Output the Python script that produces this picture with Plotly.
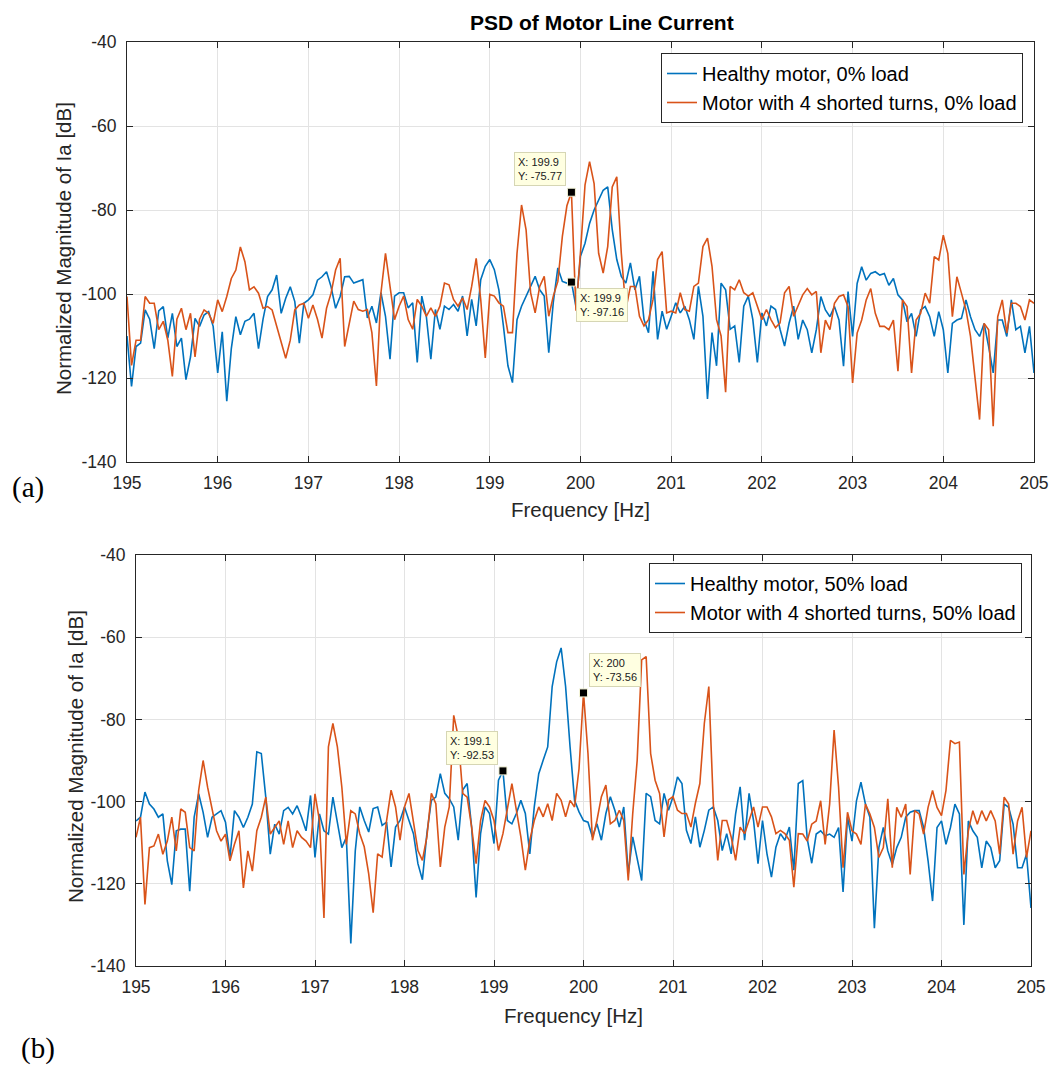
import numpy as np
import plotly.graph_objects as go

# Frequency bins of the PSD estimate [Hz]
freq_hz = np.round(np.arange(195.0, 205.0001, 0.05), 2)

# Normalized magnitude of Ia [dB], 0% load
healthy_0 = [
    -110, -122, -112.5, -111.7, -103.8, -106, -113, -104, -103, -110.5,
    -104.6, -112.5, -110.5, -120.4, -115, -105.8, -107.7, -105, -104.2, -107.7,
    -118.8, -109, -125.5, -113, -105.4, -109.7, -106.5, -106, -104.6, -113,
    -106, -100.6, -99, -95.5, -104.6, -101, -98.3, -101.8, -111.7, -102.2,
    -101.4, -100.2, -96.7, -95.9, -94.7, -98.3, -103.4, -100.6, -95.9, -95.8,
    -97.4, -97, -96.6, -105.7, -102.9, -106.9, -99.7, -105.3, -115.5, -100.5,
    -99.7, -99.7, -103.3, -102.1, -116.3, -100.5, -105.3, -115.5, -103.7, -108.4,
    -102.9, -103.7, -102.5, -104.1, -100.5, -110, -101.3, -107.6, -96.6, -93.4,
    -91.8, -94.2, -99, -107.6, -117.1, -121.1, -106.1, -102.9, -100.5, -98.2,
    -95.8, -99, -100.5, -114, -102, -93.8, -97, -97.4, -97.16, -103,
    -91, -87.9, -83.2, -80, -77.6, -75.3, -74.5, -84.7, -91.8, -95.8,
    -97.4, -92.6, -99, -95.8, -106.1, -109.2, -94.6, -110.8, -104.1, -108.4,
    -105.3, -102.1, -104.5, -102.9, -106.1, -110.8, -98.2, -105.3, -125, -109.2,
    -117.1, -97.4, -99, -108.4, -107.6, -116.3, -102.9, -100.5, -106.1, -116.3,
    -104.5, -107.6, -102.9, -103.7, -108.4, -112.4, -106.9, -102.9, -110.8, -106.2,
    -108.5, -114, -108.5, -100.6, -103.8, -105.4, -103, -106.2, -117.2, -99.4,
    -110.1, -97.5, -93.5, -96.7, -95.1, -94.7, -95.5, -95.1, -97.9, -96.3,
    -100.2, -101.4, -106.6, -104.6, -110.1, -103.8, -103, -105.4, -110.1, -104.2,
    -108.5, -118.8, -107, -106.2, -105.8, -101.4, -105.4, -108.5, -110.1, -107,
    -112.5, -118.8, -106.2, -106.2, -110.1, -101.4, -108.5, -107.7, -114, -107.7,
    -118.8,
]
shorted_0 = [
    -100.6, -117, -111, -111, -100.6, -102.2, -102.2, -108.5, -106.5, -111,
    -119.6, -106, -103.4, -108.5, -104.6, -115, -106, -103.8, -104.6, -107,
    -101.4, -104.2, -100.6, -96.3, -94.3, -88.8, -92.3, -99, -98.3, -99.8,
    -103.4, -103, -103.8, -107.7, -112, -115.3, -111, -103.8, -102.6, -102.2,
    -105.8, -102.6, -106, -110.5, -103.4, -99.8, -94.3, -91.5, -112.5, -106.9,
    -101.7, -103.7, -104.1, -103.7, -109.2, -121.9, -99.7, -90.3, -98.2, -106.1,
    -102.9, -100.5, -106.1, -108.4, -101.3, -102.9, -105.3, -103.3, -105.3, -102.9,
    -97.4, -97.8, -101.3, -102.9, -100.9, -103.7, -98.2, -91.5, -101.3, -115.2,
    -100.1, -100.5, -102.1, -102.9, -109.2, -109.2, -90.3, -78.8, -84.7, -99.7,
    -104.5, -98.2, -95.8, -105.3, -100.5, -97, -86.3, -79, -75.77, -104,
    -90, -74, -68.5, -73.7, -90.3, -95, -88.7, -74.5, -72.1, -90.3,
    -103.7, -98.2, -98.2, -105.3, -107.6, -106.1, -101.3, -91.8, -89.9, -104.5,
    -104.1, -104.5, -99.7, -103.7, -104.1, -98.2, -97.4, -88.7, -86.7, -93.4,
    -106.1, -110, -123.4, -98.2, -99, -96.6, -99.7, -100.5, -99.7, -102.9,
    -106.1, -103.7, -106.1, -108, -106.9, -99.7, -98.2, -105.3, -102.9, -100.2,
    -98.7, -100.2, -99.4, -114, -106.2, -108.5, -102.2, -100.6, -100.2, -103,
    -121.2, -109.3, -106.2, -101.4, -98.7, -104.6, -107.7, -107.7, -108.5, -106.2,
    -118.4, -101.4, -103, -118.8, -106.2, -104.6, -99.8, -102.2, -91.1, -91.9,
    -86, -90.4, -105.4, -95.9, -99.8, -103.8, -110.1, -120.4, -129.9, -107,
    -108.5, -131.5, -105.4, -101.4, -109.3, -102.2, -102.2, -103, -106.2, -101.4,
    -102.2,
]

# Normalized magnitude of Ia [dB], 50% load
healthy_50 = [
    -104.7, -103.8, -97.7, -100.6, -101.8, -103.8, -103, -114.4, -120.2, -107.1,
    -106.7, -106.7, -121.8, -103.8, -98.1, -102.6, -108.7, -103.8, -103, -102.2,
    -105, -113.6, -102.2, -103.8, -106.3, -103.8, -100.6, -87.9, -88.3, -98.9,
    -112.8, -105.5, -107.9, -102.2, -101.4, -103, -101, -103.8, -107.1, -98.5,
    -113.6, -103, -107.1, -107.9, -98.9, -105.5, -111.2, -108.7, -134.5, -112,
    -101.3, -104.6, -107.4, -101.7, -101.3, -105.8, -105, -115.9, -106.2, -104.6,
    -101.3, -104.6, -107.8, -115.1, -119, -107.8, -99.7, -98.9, -93.2, -98,
    -99.3, -101.3, -109.4, -97.2, -95.6, -106.2, -123.3, -107.8, -101.3, -102.9,
    -110.2, -94.8, -92.53, -104.6, -105.4, -102.9, -99.7, -102.9, -112.7, -101.3,
    -93.2, -89.9, -86.7, -72, -66, -62.6, -72, -86.7, -99.7, -102.5,
    -104.6, -105, -108.6, -105.4, -109.4, -102.9, -98.8, -102.1, -106.2, -101.3,
    -117.6, -108.6, -113.5, -119.2, -98, -98.8, -104.6, -105.4, -98, -102.1,
    -98.8, -94, -95.6, -107, -110.2, -103.7, -111.1, -107, -102.1, -101.3,
    -104.6, -111.9, -107.8, -112.7, -102.9, -96.4, -109.4, -98, -104.6, -115.1,
    -104.6, -112.7, -118.4, -111.1, -107.8, -109.4, -106.2, -116.7, -95.6, -94.9,
    -109.1, -115, -107.9, -107.1, -108.3, -107.9, -108.7, -106.3, -122, -103.8,
    -109.6, -99.8, -95.3, -100.6, -103.8, -130.8, -111.2, -106.3, -112, -115.3,
    -111.2, -108.7, -103.8, -102.6, -102.2, -102.2, -106.3, -114.4, -124.2, -106.3,
    -104.7, -110.4, -106.3, -100.6, -103, -130, -104.7, -107.1, -108.7, -116.1,
    -109.6, -111.2, -116.1, -114.4, -100.6, -101.4, -105.5, -116.1, -116.1, -112.8,
    -125.9,
]
shorted_50 = [
    -108.7, -103.8, -125, -111.2, -110.8, -107.9, -112.8, -109.6, -103.8, -112,
    -101.8, -102.6, -111.2, -112, -97.3, -90, -96.5, -102.2, -107.1, -109.6,
    -107.9, -114.4, -110.4, -107.1, -121, -112, -116.9, -107.1, -103.8, -98.9,
    -107.9, -106.3, -104.7, -110.4, -104.7, -111.2, -107.1, -108.7, -109.6, -111.2,
    -98.1, -104.7, -128.3, -86.7, -81, -86.7, -96.5, -110.4, -102.2, -103,
    -107.8, -111, -117.6, -127, -112.7, -113.5, -104.6, -97.2, -101.3, -109.4,
    -101.3, -98, -104.6, -111.9, -114.3, -108.6, -98, -100.5, -115.9, -106.2,
    -101.3, -79, -84.2, -98, -98.9, -106.2, -115.1, -104.6, -99.7, -101.3,
    -104.6, -111.9, -107.8, -101.3, -95.6, -102.1, -108.6, -116.7, -109.4, -104.6,
    -101.3, -103.7, -100.5, -104.6, -98, -99.7, -103.7, -99.7, -101.3, -92,
    -73.56, -88.3, -109.4, -104.6, -98.8, -96, -105.4, -104.6, -102.1, -104.6,
    -119.2, -102.9, -89.9, -65.5, -64.7, -88.3, -94.8, -98, -108.6, -99.6,
    -98.8, -102.1, -102.9, -102.9, -106.2, -100.4, -95.6, -81, -72, -100.4,
    -114.3, -104.6, -104.6, -108.6, -114.3, -106.2, -107.8, -104.6, -101.3, -106.2,
    -101.3, -101.3, -103.7, -107.8, -107, -107.8, -109.4, -120.8, -107.8, -107.9,
    -109.6, -105.5, -104.7, -99.8, -110.4, -100.6, -82.6, -96.5, -116.1, -102.6,
    -107.1, -107.9, -110.4, -100.6, -103, -106.3, -113.6, -111.2, -99.3, -116.1,
    -101.4, -103.8, -100.6, -117.7, -102.2, -103, -107.9, -101.4, -97.3, -101.4,
    -103.4, -97.3, -85.1, -85.9, -85.5, -117.7, -107.1, -102.2, -105.5, -102.2,
    -104.7, -102.2, -104.7, -112.8, -98.9, -100.6, -112.8, -104.7, -101.4, -113.6,
    -107.1,
]

x_ticks = [195, 196, 197, 198, 199, 200, 201, 202, 203, 204, 205]
y_ticks = [-140, -120, -100, -80, -60, -40]
y_tick_text = ["-140", "-120", "-100", "-80", "-60", "-40"]

# Data cursors: (panel, series, frequency, box corner relative to marker)
tips = [
    ("a", shorted_0, 199.9, "ul"),
    ("a", healthy_0, 199.9, "lr"),
    ("b", healthy_50, 199.1, "ul"),
    ("b", shorted_50, 200.0, "ur"),
]

BLUE = "#0072BD"
ORANGE = "#D95319"
AXC = "#262626"
FONT = "Liberation Sans, Arial, sans-serif"
SERIF = "Liberation Serif, DejaVu Serif, serif"

W, H = 1054, 1066


def px_x(p):
    return p / W


def px_y(p):
    return 1 - p / H


fig = go.Figure()

panels = {
    "a": dict(xa="x", ya="y", leg="legend", load="0% load",
              healthy=healthy_0, shorted=shorted_0),
    "b": dict(xa="x2", ya="y2", leg="legend2", load="50% load",
              healthy=healthy_50, shorted=shorted_50),
}

for key, p in panels.items():
    fig.add_trace(go.Scatter(
        x=freq_hz, y=p["healthy"], mode="lines", xaxis=p["xa"], yaxis=p["ya"],
        line=dict(color=BLUE, width=1.6), name="Healthy motor, " + p["load"],
        legend=p["leg"], hoverinfo="skip"))
    fig.add_trace(go.Scatter(
        x=freq_hz, y=p["shorted"], mode="lines", xaxis=p["xa"], yaxis=p["ya"],
        line=dict(color=ORANGE, width=1.6),
        name="Motor with 4 shorted turns, " + p["load"],
        legend=p["leg"], hoverinfo="skip"))

annotations = []
for panel, series, f, corner in tips:
    p = panels[panel]
    idx = int(np.argmin(np.abs(freq_hz - f)))
    xv, yv = float(freq_hz[idx]), float(series[idx])
    fig.add_trace(go.Scatter(
        x=[xv], y=[yv], mode="markers", xaxis=p["xa"], yaxis=p["ya"],
        marker=dict(symbol="square", size=8, color="black",
                    line=dict(color="#f4f4d8", width=1)),
        showlegend=False, hoverinfo="skip"))
    xanchor = "right" if corner[1] == "l" else "left"
    yanchor = "bottom" if corner[0] == "u" else "top"
    annotations.append(dict(
        x=xv, y=yv, xref=p["xa"], yref=p["ya"], showarrow=False,
        text=f"X: {xv:.4g}<br>Y: {yv:.4g}", align="left",
        xanchor=xanchor, yanchor=yanchor,
        xshift=-5 if xanchor == "right" else 5,
        yshift=6 if yanchor == "bottom" else -6,
        font=dict(family=FONT, size=11, color="#1a1a1a"),
        bgcolor="#ffffe1", bordercolor="#d6d6b4", borderwidth=1, borderpad=3))

axis_common = dict(
    showline=True, linecolor=AXC, linewidth=1, mirror="ticks",
    ticks="inside", ticklen=6, tickcolor=AXC, tickwidth=1,
    showgrid=True, gridcolor="#e3e3e3", gridwidth=1, zeroline=False,
    tickfont=dict(family=FONT, size=17.5, color=AXC), automargin=False,
)

# Panel boxes in pixels: (left, right, top, bottom)
box_a = (127, 1034, 42, 462)
box_b = (136, 1031, 555, 966)

for suffix, box, anchor in (("", box_a, "y"), ("2", box_b, "y2")):
    l, r, t, b = box
    fig.update_layout(**{
        "xaxis" + suffix: dict(axis_common, domain=[px_x(l), px_x(r)],
                               range=[195, 205], tickvals=x_ticks,
                               anchor=anchor, ticklabelstandoff=5),
        "yaxis" + suffix: dict(axis_common, domain=[px_y(b), px_y(t)],
                               range=[-140, -40], tickvals=y_ticks,
                               ticktext=y_tick_text,
                               anchor="x" + suffix, ticklabelstandoff=6),
    })


def paper_text(text, x, y, size, family=FONT, color=AXC, angle=0):
    return dict(text=text, x=px_x(x), y=px_y(y), xref="paper", yref="paper",
                xanchor="center", yanchor="middle", showarrow=False,
                textangle=angle, font=dict(family=family, size=size,
                                           color=color))


# Titles and labels
annotations += [
    paper_text("<b>PSD of Motor Line Current</b>", 602, 22, 21, color="black"),
    paper_text("Frequency [Hz]", 580, 510, 20.5),
    paper_text("Frequency [Hz]", 573, 1015, 20.5),
    paper_text("Normalized Magnitude of Ia [dB]", 63, 249, 20.5, angle=-90),
    paper_text("Normalized Magnitude of Ia [dB]", 75, 757, 20.5, angle=-90),
    paper_text("(a)", 28, 487, 29, family=SERIF, color="black"),
    paper_text("(b)", 38, 1048, 29, family=SERIF, color="black"),
]

legend_style = dict(
    bgcolor="white", bordercolor=AXC, borderwidth=1,
    font=dict(family=FONT, size=20, color="black"),
    xanchor="right", yanchor="top", itemwidth=30,
)

fig.update_layout(
    width=W, height=H,
    margin=dict(l=0, r=0, t=0, b=0, autoexpand=False),
    paper_bgcolor="white", plot_bgcolor="white",
    showlegend=True,
    legend=dict(legend_style, x=px_x(1023), y=px_y(53)),
    legend2=dict(legend_style, x=px_x(1022), y=px_y(563)),
    annotations=annotations,
    hovermode=False,
)

fig.write_html("out.html")
